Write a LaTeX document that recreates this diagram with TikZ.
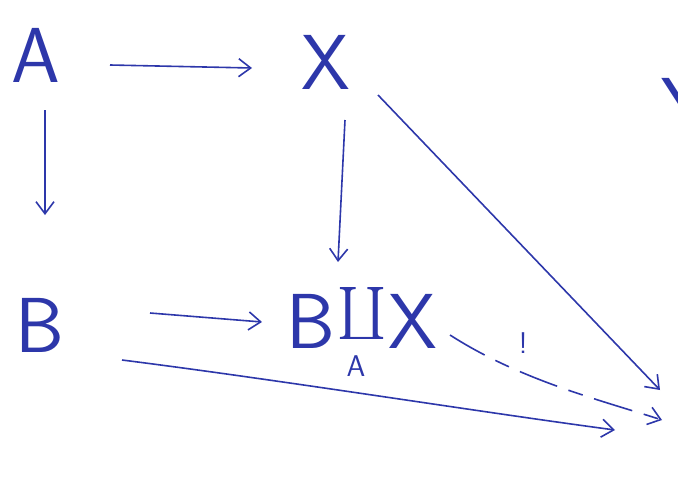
\documentclass[tikz,border=0pt]{standalone}
\usetikzlibrary{arrows.meta}
\definecolor{ink}{RGB}{45,55,170}
\begin{document}
\begin{tikzpicture}[x=1pt,y=1pt,
  obj/.style={text=ink, font=\fontsize{78}{78}\selectfont\sffamily, inner sep=0pt},
  arr/.style={draw=ink, line width=1.6pt, -{Straight Barb[length=12pt,width=18pt]}},
  lbl/.style={text=ink, font=\fontsize{30}{30}\selectfont\sffamily}]
\useasboundingbox (0,0) rectangle (678,-498);
\clip (0,0) rectangle (678,-498);
\node[obj] (A) at (36,-55) {A};
\node[obj] (X) at (326,-62) {X};
\node[obj] (B) at (40,-325) {B};
\node[obj] (P) at (362,-318) {B\kern2pt\raisebox{2pt}{\scalebox{5.2}{$\coprod$}}\kern2ptX};
\node[text=ink, font=\fontsize{30}{30}\selectfont\sffamily] (Asub) at (356,-366) {A};
\node[obj] (Y) at (686,-105) {Y};
\coordinate (Y1) at (660,-390);
\coordinate (Y2) at (662,-420);
\coordinate (Y3) at (615,-430);
\draw[arr] (110,-65) -- (252,-68);
\draw[arr] (45,-110) -- (45,-215);
\draw[arr] (345,-120) -- (338,-262);
\draw[arr] (150,-313) -- (262,-322);
\draw[arr] (378,-95) -- (Y1);
\draw[arr] (122,-360) .. controls (280,-380) and (480,-412) .. (Y3);
\draw[arr, dashed, dash pattern=on 40pt off 12pt on 15pt off 12pt] (450,-335) .. controls (520,-380) and (600,-400) .. (Y2);
\node[lbl] (bang) at (523,-343) {!};
\end{tikzpicture}
\end{document}
